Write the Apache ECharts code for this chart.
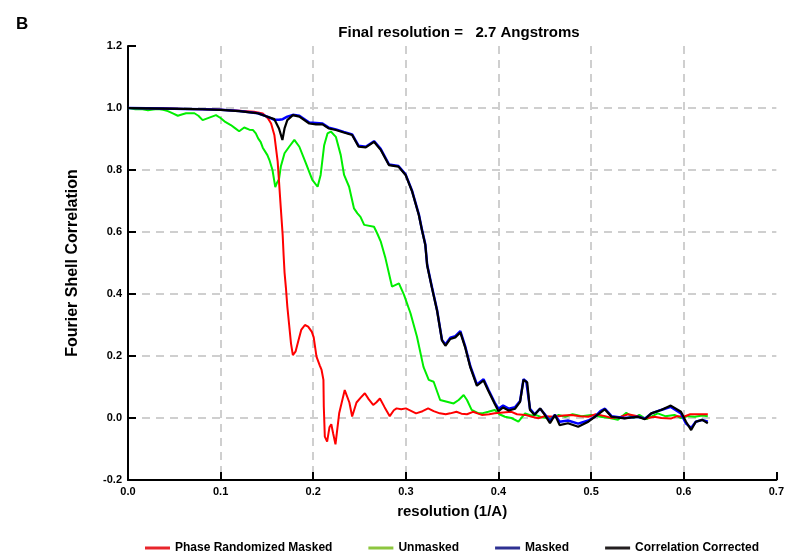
<!DOCTYPE html>
<html>
<head>
<meta charset="utf-8">
<script src="https://cdn.jsdelivr.net/npm/echarts@6/dist/echarts.min.js"></script>
<style>
html,body{margin:0;padding:0;background:#fff;}
#chart{width:787px;height:552px;}
</style>
</head>
<body>
<div id="chart"></div>
<script>
// Values: [resolution (1/A), FSC]
var seriesNames = ['Phase Randomized Masked', 'Unmasked', 'Masked', 'Correlation Corrected'];
var xTicks = [0, 0.1, 0.2, 0.3, 0.4, 0.5, 0.6, 0.7];
var yTicks = [-0.2, 0, 0.2, 0.4, 0.6, 0.8, 1.0, 1.2];

var phaseRandomized = [
[0,1.0],[0.02,0.999],[0.04,0.998],[0.06,0.997],[0.08,0.996],[0.1,0.994],[0.12,0.991],[0.136,0.988],[0.1455,0.982],[0.151,0.967],[0.1545,0.95],[0.158,0.913],[0.1616,0.827],[0.163,0.765],[0.165,0.676],[0.167,0.59],[0.168,0.526],[0.169,0.47],[0.1705,0.42],[0.172,0.36],[0.174,0.30],[0.176,0.24],[0.178,0.203],[0.181,0.215],[0.184,0.25],[0.187,0.284],[0.191,0.30],[0.1945,0.295],[0.1985,0.278],[0.2005,0.26],[0.2035,0.198],[0.207,0.17],[0.209,0.155],[0.211,0.123],[0.2114,0.036],[0.2125,-0.06],[0.215,-0.076],[0.2175,-0.03],[0.2195,-0.02],[0.2215,-0.05],[0.224,-0.085],[0.2258,-0.087],[0.228,0.015],[0.2305,0.047],[0.234,0.09],[0.236,0.096],[0.239,0.05],[0.242,0.005],[0.2467,0.05],[0.251,0.065],[0.2557,0.08],[0.26,0.06],[0.2647,0.042],[0.268,0.05],[0.272,0.063],[0.277,0.035],[0.2826,0.006],[0.287,0.025],[0.29,0.031],[0.295,0.028],[0.30,0.031],[0.305,0.024],[0.311,0.015],[0.318,0.022],[0.324,0.031],[0.33,0.022],[0.3366,0.015],[0.343,0.012],[0.348,0.015],[0.3546,0.02],[0.36,0.014],[0.366,0.012],[0.3725,0.02],[0.378,0.014],[0.382,0.01],[0.39,0.012],[0.396,0.015],[0.405,0.018],[0.414,0.02],[0.42,0.012],[0.4287,0.01],[0.436,0.004],[0.443,-0.001],[0.45,0.006],[0.461,0.004],[0.47,0.008],[0.479,0.01],[0.488,0.006],[0.497,0.004],[0.505,0.012],[0.515,0.006],[0.522,0.0],[0.532,0.004],[0.54,0.012],[0.55,0.006],[0.558,-0.002],[0.568,0.004],[0.576,0.0],[0.586,-0.002],[0.593,0.006],[0.6,0.004],[0.607,0.012],[0.615,0.012],[0.626,0.012]
];

var unmasked = [
[0,1.0],[0.008,0.996],[0.0143,0.997],[0.0215,0.993],[0.027,0.995],[0.032,0.997],[0.038,0.994],[0.043,0.99],[0.049,0.982],[0.0538,0.975],[0.058,0.979],[0.0627,0.983],[0.0717,0.983],[0.076,0.975],[0.0806,0.961],[0.0878,0.969],[0.095,0.977],[0.1003,0.967],[0.105,0.955],[0.111,0.945],[0.1155,0.935],[0.12,0.925],[0.1255,0.937],[0.131,0.93],[0.135,0.929],[0.138,0.918],[0.1405,0.902],[0.1433,0.89],[0.1455,0.872],[0.1505,0.848],[0.1527,0.832],[0.156,0.8],[0.159,0.745],[0.161,0.76],[0.163,0.77],[0.165,0.811],[0.169,0.854],[0.174,0.875],[0.1796,0.897],[0.185,0.875],[0.192,0.822],[0.199,0.768],[0.2047,0.746],[0.208,0.784],[0.2118,0.88],[0.2154,0.918],[0.219,0.924],[0.2244,0.907],[0.2297,0.848],[0.2333,0.784],[0.2387,0.746],[0.244,0.676],[0.2477,0.66],[0.251,0.649],[0.255,0.623],[0.2656,0.617],[0.269,0.596],[0.2728,0.57],[0.278,0.515],[0.285,0.424],[0.2925,0.434],[0.298,0.397],[0.305,0.338],[0.312,0.262],[0.319,0.165],[0.3247,0.123],[0.33,0.117],[0.337,0.058],[0.3516,0.047],[0.357,0.058],[0.3624,0.074],[0.366,0.058],[0.371,0.026],[0.3785,0.015],[0.382,0.015],[0.389,0.02],[0.396,0.026],[0.401,0.012],[0.407,0.004],[0.414,0.0],[0.4215,-0.012],[0.4287,0.015],[0.435,0.008],[0.44,0.01],[0.447,0.002],[0.457,-0.001],[0.465,0.01],[0.472,0.004],[0.48,0.012],[0.49,0.006],[0.5,0.01],[0.51,0.004],[0.52,0.0],[0.529,-0.006],[0.538,0.017],[0.546,0.0],[0.552,0.01],[0.56,-0.004],[0.566,0.006],[0.572,0.015],[0.58,0.006],[0.59,0.01],[0.597,0.0],[0.605,0.006],[0.612,0.004],[0.62,0.008],[0.626,0.006]
];

var masked = [
[0,1.0],[0.02,0.999],[0.04,0.998],[0.06,0.997],[0.08,0.996],[0.1,0.994],[0.12,0.99],[0.14,0.983],[0.1505,0.972],[0.158,0.962],[0.163,0.962],[0.167,0.964],[0.172,0.972],[0.178,0.978],[0.185,0.975],[0.1957,0.953],[0.203,0.952],[0.21,0.95],[0.217,0.936],[0.2244,0.931],[0.233,0.923],[0.242,0.915],[0.249,0.878],[0.2567,0.875],[0.2656,0.893],[0.2728,0.868],[0.2817,0.818],[0.292,0.813],[0.2997,0.786],[0.3068,0.732],[0.314,0.657],[0.3175,0.606],[0.321,0.56],[0.323,0.494],[0.328,0.424],[0.3337,0.348],[0.339,0.252],[0.3427,0.237],[0.348,0.259],[0.3534,0.264],[0.3588,0.28],[0.364,0.232],[0.3696,0.167],[0.3767,0.108],[0.3839,0.125],[0.389,0.092],[0.396,0.049],[0.40,0.03],[0.405,0.04],[0.411,0.03],[0.418,0.035],[0.4233,0.055],[0.427,0.125],[0.43,0.118],[0.434,0.03],[0.439,0.012],[0.445,0.03],[0.45,0.012],[0.4556,-0.01],[0.461,0.01],[0.466,-0.012],[0.475,-0.008],[0.486,-0.018],[0.497,-0.008],[0.504,0.004],[0.51,0.022],[0.515,0.03],[0.522,0.006],[0.536,0.0],[0.5505,0.004],[0.558,-0.002],[0.565,0.015],[0.5756,0.026],[0.586,0.036],[0.597,0.015],[0.6025,-0.018],[0.608,-0.032],[0.613,-0.012],[0.62,-0.006],[0.626,-0.012]
];

var corrected = [
[0,1.0],[0.02,0.999],[0.04,0.998],[0.06,0.997],[0.08,0.996],[0.1,0.994],[0.12,0.99],[0.14,0.983],[0.1505,0.972],[0.158,0.964],[0.163,0.934],[0.1667,0.897],[0.169,0.934],[0.172,0.961],[0.178,0.977],[0.185,0.972],[0.1957,0.95],[0.203,0.947],[0.21,0.947],[0.217,0.934],[0.2244,0.929],[0.233,0.921],[0.242,0.913],[0.249,0.875],[0.2567,0.873],[0.2656,0.891],[0.2728,0.865],[0.2817,0.816],[0.292,0.811],[0.2997,0.784],[0.3068,0.73],[0.314,0.655],[0.3175,0.604],[0.321,0.558],[0.323,0.492],[0.328,0.422],[0.3337,0.346],[0.339,0.25],[0.3427,0.233],[0.348,0.255],[0.3534,0.26],[0.3588,0.276],[0.364,0.228],[0.3696,0.163],[0.3767,0.104],[0.3839,0.121],[0.389,0.088],[0.396,0.045],[0.40,0.022],[0.405,0.034],[0.411,0.024],[0.418,0.03],[0.4233,0.052],[0.427,0.123],[0.431,0.115],[0.434,0.026],[0.439,0.01],[0.445,0.031],[0.45,0.01],[0.4556,-0.017],[0.461,0.01],[0.466,-0.023],[0.475,-0.017],[0.486,-0.028],[0.497,-0.012],[0.504,0.004],[0.5147,0.028],[0.522,0.004],[0.536,-0.001],[0.5505,0.004],[0.558,-0.004],[0.565,0.015],[0.5756,0.026],[0.586,0.04],[0.597,0.02],[0.6025,-0.012],[0.608,-0.039],[0.613,-0.012],[0.62,-0.006],[0.626,-0.017]
];

var FONT = 'Liberation Sans';
var chart = echarts.init(document.getElementById('chart'), null, {renderer: 'canvas'});

function lineSeries(name, data, color, width, z) {
  return {
    name: name, type: 'line', data: data, showSymbol: false, symbol: 'none',
    smooth: false, animation: false, z: z,
    lineStyle: {color: color, width: width},
    itemStyle: {color: color}
  };
}

chart.setOption({
  animation: false,
  backgroundColor: '#ffffff',
  title: [
    {text: 'Final resolution =   2.7 Angstroms', left: 454, top: 20, textAlign: 'center',
     textStyle: {fontFamily: FONT, fontWeight: 'bold', fontSize: 15, color: '#000'}},
    {text: 'B', left: 11, top: 11,
     textStyle: {fontFamily: FONT, fontWeight: 'bold', fontSize: 17, color: '#000'}}
  ],
  grid: {left: 128, right: 8, top: 46, bottom: 72, containLabel: false},
  legend: {
    left: 140, top: 537, itemGap: 36, itemWidth: 25, itemHeight: 3, icon: 'rect',
    textStyle: {fontFamily: FONT, fontWeight: 'bold', fontSize: 12, color: '#000'},
    data: [
      {name: seriesNames[0], itemStyle: {color: '#e8252b'}},
      {name: seriesNames[1], itemStyle: {color: '#8dc63f'}},
      {name: seriesNames[2], itemStyle: {color: '#2e3192'}},
      {name: seriesNames[3], itemStyle: {color: '#231f20'}}
    ]
  },
  xAxis: {
    type: 'value', min: xTicks[0], max: xTicks[xTicks.length - 1], interval: 0.1,
    name: 'resolution (1/A)', nameLocation: 'middle', nameGap: 24,
    nameTextStyle: {fontFamily: FONT, fontWeight: 'bold', fontSize: 15, color: '#000'},
    axisLine: {show: true, onZero: false, lineStyle: {color: '#000', width: 2}},
    axisTick: {show: true, inside: true, length: 8, lineStyle: {color: '#000', width: 2}},
    axisLabel: {fontFamily: FONT, fontWeight: 'bold', fontSize: 11, color: '#000', margin: 6,
      formatter: function (v) { return v.toFixed(1); }},
    splitLine: {show: true, showMinLine: false, showMaxLine: false,
      lineStyle: {color: '#cfcfcf', width: 2, type: [8, 6]}}
  },
  yAxis: {
    type: 'value', min: yTicks[0], max: yTicks[yTicks.length - 1], interval: 0.2,
    name: 'Fourier Shell Correlation', nameLocation: 'middle', nameGap: 47, nameRotate: 90,
    nameTextStyle: {fontFamily: FONT, fontWeight: 'bold', fontSize: 16, color: '#000'},
    axisLine: {show: true, onZero: false, lineStyle: {color: '#000', width: 2}},
    axisTick: {show: true, inside: true, length: 8, lineStyle: {color: '#000', width: 2}},
    axisLabel: {fontFamily: FONT, fontWeight: 'bold', fontSize: 11, color: '#000', margin: 6,
      formatter: function (v) { return v.toFixed(1); }},
    splitLine: {show: true, showMinLine: false, showMaxLine: false,
      lineStyle: {color: '#cfcfcf', width: 2, type: [8, 6]}}
  },
  series: [
    lineSeries(seriesNames[1], unmasked, '#00ee00', 2, 2),
    lineSeries(seriesNames[0], phaseRandomized, '#ff0000', 2, 3),
    lineSeries(seriesNames[2], masked, '#0000ff', 2.5, 4),
    lineSeries(seriesNames[3], corrected, '#000000', 2.2, 5)
  ]
});
</script>
</body>
</html>
